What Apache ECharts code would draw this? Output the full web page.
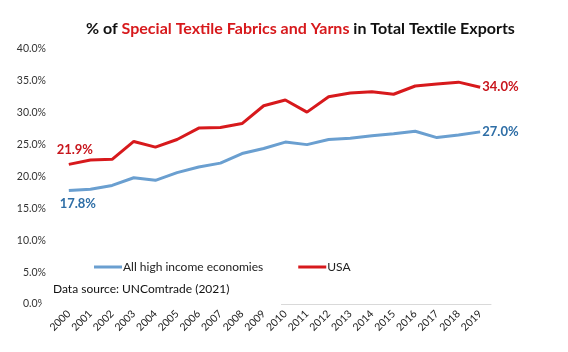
<!DOCTYPE html>
<html>
<head>
<meta charset="utf-8">
<script src="https://cdn.jsdelivr.net/npm/echarts@6/dist/echarts.min.js"></script>
<style>html,body{margin:0;padding:0;background:#fff}#c{width:568px;height:352px}</style>
</head>
<body>
<div id="c"></div>
<script>
const years = ['2000','2001','2002','2003','2004','2005','2006','2007','2008','2009','2010','2011','2012','2013','2014','2015','2016','2017','2018','2019'];
const highIncome = [17.8,18.0,18.6,19.8,19.4,20.6,21.5,22.1,23.6,24.4,25.4,25.0,25.8,26.0,26.4,26.7,27.1,26.1,26.5,27.0];
const usa = [21.9,22.6,22.7,25.5,24.6,25.8,27.6,27.7,28.3,31.1,32.0,30.1,32.5,33.1,33.3,32.9,34.2,34.5,34.8,34.0];
const yTicks = [0,5,10,15,20,25,30,35,40];

const FONT = 'Lato, "Open Sans", sans-serif';
const BLUE = '#6a9fd0';
const BLUE_T = '#2e6ea6';
const RED = '#d7191c';
const RED_T = '#c8161d';

function build(vals, firstPos, firstOff) {
  const last = vals.length - 1;
  return vals.map((v, i) => {
    if (i === 0) return {value: v, label: {show: true, position: firstPos, offset: firstOff}};
    if (i === last) return {value: v, label: {show: true, position: 'right', distance: 2}};
    return v;
  });
}

const chart = echarts.init(document.getElementById('c'), null, {renderer: 'canvas'});
chart.setOption({
  animation: false,
  backgroundColor: '#fff',
  textStyle: {fontFamily: FONT},
  title: {
    left: 81, top: 16,
    text: '{a|% of }{b|Special Textile Fabrics and Yarns}{a| in Total Textile Exports}',
    textStyle: {
      rich: {
        a: {fontFamily: FONT, fontWeight: 'bold', fontSize: 16, color: '#111'},
        b: {fontFamily: FONT, fontWeight: 'bold', fontSize: 16, color: RED}
      }
    }
  },
  legend: {
    left: 89, top: 256,
    itemWidth: 28, itemHeight: 3, itemGap: 35,
    icon: 'rect',
    textStyle: {fontFamily: FONT, fontSize: 12, color: '#222', padding: [0,0,0,-4]},
    data: ['All high income economies', 'USA']
  },
  grid: {left: 58, right: 77, top: 49, bottom: 48},
  xAxis: {
    type: 'category',
    data: years,
    boundaryGap: true,
    axisLine: {show: true, lineStyle: {color: '#d9d9d9', width: 1}},
    axisTick: {show: false},
    axisLabel: {rotate: 45, fontSize: 10.5, color: '#222', fontFamily: FONT, margin: 8, interval: 0}
  },
  yAxis: {
    type: 'value',
    min: yTicks[0], max: yTicks[yTicks.length - 1], interval: 5,
    splitLine: {show: false},
    axisLine: {show: false},
    axisTick: {show: false},
    axisLabel: {fontSize: 10.5, color: '#333', fontFamily: FONT, margin: 12, formatter: v => v.toFixed(1) + '%'}
  },
  series: [
    {
      name: 'All high income economies', type: 'line',
      data: build(highIncome, 'bottom', [9, 2]),
      symbol: 'circle', symbolSize: 0.1, showSymbol: true,
      lineStyle: {color: BLUE, width: 3}, itemStyle: {color: BLUE},
      label: {color: BLUE_T, fontSize: 13, fontWeight: 'bold', fontFamily: FONT, formatter: p => p.value.toFixed(1) + '%'}
    },
    {
      name: 'USA', type: 'line',
      data: build(usa, 'top', [6, -3]),
      symbol: 'circle', symbolSize: 0.1, showSymbol: true,
      lineStyle: {color: RED, width: 3}, itemStyle: {color: RED},
      label: {color: RED_T, fontSize: 13, fontWeight: 'bold', fontFamily: FONT, formatter: p => p.value.toFixed(1) + '%'}
    }
  ],
  graphic: [
    {type: 'rect', left: 42, top: 281, z: 100, shape: {width: 239, height: 26}, style: {fill: '#fff'}},
    {type: 'text', left: 53, top: 283, z: 101, style: {text: 'Data source: UNComtrade (2021)', font: '12px ' + FONT, fill: '#111'}}
  ]
});
</script>
</body>
</html>
